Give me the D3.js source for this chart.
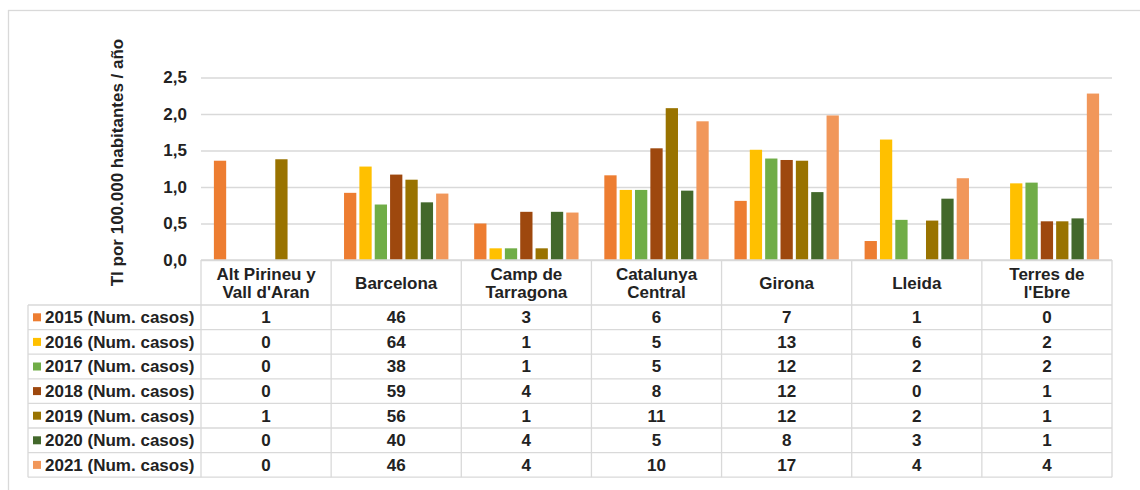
<!DOCTYPE html>
<html>
<head>
<meta charset="utf-8">
<script src="https://cdn.jsdelivr.net/npm/d3@7"></script>
<style>
  html, body { margin: 0; padding: 0; background: #fff; }
  svg { display: block; font-family: "Liberation Sans", Arial, sans-serif; }
</style>
</head>
<body>
<svg id="chart" width="1140" height="490"></svg>
<script>
// ---- data ----
const categories = ["Alt Pirineu y\nVall d'Aran", "Barcelona", "Camp de\nTarragona", "Catalunya\nCentral", "Girona", "Lleida", "Terres de\nl'Ebre"];
const years = ["2015", "2016", "2017", "2018", "2019", "2020", "2021"];
const seriesLabels = ["2015 (Num. casos)", "2016 (Num. casos)", "2017 (Num. casos)", "2018 (Num. casos)", "2019 (Num. casos)", "2020 (Num. casos)", "2021 (Num. casos)"];
const colors = ["#ED7D31", "#FFC000", "#70AD47", "#9E480E", "#997300", "#43682B", "#F1975A"];
const yTicks = [0, 0.5, 1.0, 1.5, 2.0, 2.5];
const yTitle = "TI por 100.000 habitantes / año";

// incidence rate per 100.000 (bar heights)
const rate2015 = [1.36, 0.92, 0.50, 1.16, 0.81, 0.26, 0];
const rate2016 = [0, 1.28, 0.16, 0.96, 1.51, 1.65, 1.05];
const rate2017 = [0, 0.76, 0.16, 0.96, 1.39, 0.55, 1.06];
const rate2018 = [0, 1.17, 0.66, 1.53, 1.37, 0, 0.53];
const rate2019 = [1.38, 1.10, 0.16, 2.08, 1.36, 0.54, 0.53];
const rate2020 = [0, 0.79, 0.66, 0.95, 0.93, 0.84, 0.57];
const rate2021 = [0, 0.91, 0.65, 1.90, 1.98, 1.12, 2.28];

// number of cases (table)
const cases2015 = [1, 46, 3, 6, 7, 1, 0];
const cases2016 = [0, 64, 1, 5, 13, 6, 2];
const cases2017 = [0, 38, 1, 5, 12, 2, 2];
const cases2018 = [0, 59, 4, 8, 12, 0, 1];
const cases2019 = [1, 56, 1, 11, 12, 2, 1];
const cases2020 = [0, 40, 4, 5, 8, 3, 1];
const cases2021 = [0, 46, 4, 10, 17, 4, 4];

const rates = [rate2015, rate2016, rate2017, rate2018, rate2019, rate2020, rate2021];
const cases = [cases2015, cases2016, cases2017, cases2018, cases2019, cases2020, cases2021];

// ---- layout ----
const svg = d3.select("#chart");
const gridColor = "#d9d9d9";
const textColor = "#222";
const fs = 17;
const plotL = 201, plotR = 1112, plotT = 77.5, plotB = 260;
const headerB = 305, rowH = 24.6, legendL = 28;

// outer frame
svg.append("rect").attr("x", 8.5).attr("y", 10.5).attr("width", 1140).attr("height", 490)
  .attr("fill", "none").attr("stroke", gridColor).attr("stroke-width", 1.3);

const x0 = d3.scaleBand().domain(categories).range([plotL, plotR]).paddingInner(0).paddingOuter(0);
const x1 = d3.scaleBand().domain(years).range([0, x0.bandwidth()]).paddingInner(0.2).paddingOuter(0.84);
const y = d3.scaleLinear().domain([0, 2.5]).range([plotB, plotT]);

// y axis + gridlines
const fmt = v => d3.format(".1f")(v).replace(".", ",");
const yAxis = svg.append("g").attr("transform", `translate(${plotL},0)`)
  .call(d3.axisLeft(y).tickValues(yTicks).tickFormat(fmt).tickSizeInner(-(plotR - plotL)).tickSizeOuter(0).tickPadding(14));
yAxis.select(".domain").remove();
yAxis.selectAll(".tick line").attr("stroke", gridColor).attr("stroke-width", 1.3);
yAxis.selectAll(".tick text").attr("fill", textColor).attr("font-size", fs).attr("font-weight", "bold")
  .attr("font-family", "'Liberation Sans', Arial, sans-serif");

// y title
svg.append("text")
  .attr("transform", `translate(123,${162.5}) rotate(-90)`)
  .attr("text-anchor", "middle")
  .attr("font-size", fs).attr("font-weight", "bold").attr("fill", textColor)
  .text(yTitle);

// bars
const groups = svg.append("g").selectAll("g").data(categories).join("g")
  .attr("transform", d => `translate(${x0(d)},0)`);
groups.selectAll("rect")
  .data((d, ci) => years.map((yr, si) => ({ yr, si, v: rates[si][ci] })))
  .join("rect")
  .attr("x", d => x1(d.yr))
  .attr("width", x1.bandwidth())
  .attr("y", d => y(d.v))
  .attr("height", d => y(0) - y(d.v))
  .attr("fill", d => colors[d.si]);

// ---- data table ----
const tbl = svg.append("g");
const lines = tbl.append("g").attr("stroke", gridColor).attr("stroke-width", 1.3);
const tableBottom = headerB + rowH * years.length;
// horizontal lines
lines.append("line").attr("x1", plotL).attr("x2", plotR).attr("y1", plotB).attr("y2", plotB);
for (let i = 0; i <= years.length; i++) {
  const yy = headerB + i * rowH;
  lines.append("line").attr("x1", legendL).attr("x2", plotR).attr("y1", yy).attr("y2", yy);
}
// vertical lines
categories.forEach(c => {
  lines.append("line").attr("x1", x0(c)).attr("x2", x0(c)).attr("y1", plotB).attr("y2", tableBottom);
});
lines.append("line").attr("x1", plotR).attr("x2", plotR).attr("y1", plotB).attr("y2", tableBottom);
lines.append("line").attr("x1", legendL).attr("x2", legendL).attr("y1", headerB).attr("y2", tableBottom);

// header labels
categories.forEach(c => {
  const parts = c.split("\n");
  const cx = x0(c) + x0.bandwidth() / 2;
  const cy = (plotB + headerB) / 2 + 0.5;
  const lh = 18.4;
  parts.forEach((p, i) => {
    tbl.append("text")
      .attr("x", cx)
      .attr("y", cy + (i - (parts.length - 1) / 2) * lh)
      .attr("dy", "0.35em")
      .attr("text-anchor", "middle")
      .attr("font-size", fs).attr("font-weight", "bold").attr("fill", textColor)
      .text(p);
  });
});

// rows
seriesLabels.forEach((lab, si) => {
  const cy = headerB + si * rowH + rowH / 2;
  tbl.append("rect").attr("x", 33).attr("y", cy - 4).attr("width", 8).attr("height", 8).attr("fill", colors[si]);
  tbl.append("text").attr("x", 45).attr("y", cy).attr("dy", "0.35em")
    .attr("font-size", fs).attr("font-weight", "bold").attr("fill", textColor).text(lab);
  categories.forEach((c, ci) => {
    tbl.append("text").attr("x", x0(c) + x0.bandwidth() / 2).attr("y", cy).attr("dy", "0.35em")
      .attr("text-anchor", "middle")
      .attr("font-size", fs).attr("font-weight", "bold").attr("fill", textColor)
      .text(cases[si][ci]);
  });
});
</script>
</body>
</html>
